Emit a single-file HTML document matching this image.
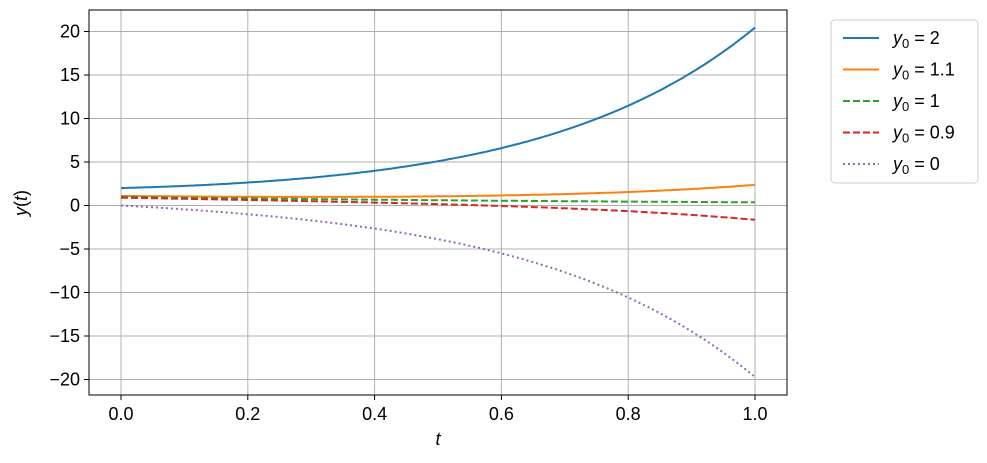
<!DOCTYPE html>
<html><head><meta charset="utf-8"><style>
body{margin:0;background:#fff}
text{font-family:"Liberation Sans","DejaVu Sans",sans-serif;font-size:18px;fill:#000}
</style></head><body>
<svg id="s" width="987" height="458" xmlns="http://www.w3.org/2000/svg">
<g id="grid" stroke="#b0b0b0" stroke-width="1"></g>
<g id="curves" fill="none" stroke-width="2"></g>
<rect x="89" y="10" width="698" height="385" fill="none" stroke="#000" stroke-width="1"/>
<g id="ticks"></g>
<text x="438" y="445" text-anchor="middle" font-style="italic">t</text>
<text transform="translate(27,203) rotate(-90)" text-anchor="middle"><tspan font-style="italic">y</tspan>(<tspan font-style="italic">t</tspan>)</text>
<rect x="831" y="20" width="147" height="163" rx="4" fill="#fff" stroke="#ccc"/>
<g id="leg"></g>
</svg>
<script>
const X=t=>121+634*t, Y=v=>205.5-8.7*v;
const ns="http://www.w3.org/2000/svg";
function el(p,n,a,txt){const e=document.createElementNS(ns,n);for(const k in a)e.setAttribute(k,a[k]);if(txt!==undefined)e.innerHTML=txt;document.getElementById(p).appendChild(e);return e;}
for(let i=0;i<=5;i++){const x=X(i*0.2);el('grid','line',{x1:x,x2:x,y1:10,y2:395});el('ticks','line',{x1:x,x2:x,y1:395,y2:400,stroke:'#000'});el('ticks','text',{x:x,y:420,'text-anchor':'middle'},(i*0.2).toFixed(1));}
for(let v=-20;v<=20;v+=5){const y=Y(v);el('grid','line',{x1:89,x2:787,y1:y,y2:y});el('ticks','line',{x1:84,x2:89,y1:y,y2:y,stroke:'#000'});el('ticks','text',{x:80,y:y+6,'text-anchor':'end'},v<0?'\u2212'+(-v):v);}
const S=[[2,'#1f77b4',''],[1.1,'#ff7f0e',''],[1,'#2ca02c','7,3'],[0.9,'#d62728','7,3'],[0,'#9467bd','2,3']];
S.forEach((s,i)=>{let d='';for(let k=0;k<=200;k++){const t=k/200;const v=Math.exp(-t)+(s[0]-1)*Math.exp(3*t);d+=(k?'L':'M')+X(t).toFixed(1)+','+Y(v).toFixed(1);}
const a={d:d,stroke:s[1]};if(s[2])a['stroke-dasharray']=s[2];el('curves','path',a);
const y=38+i*31.5;const b={x1:843,x2:879,y1:y,y2:y,stroke:s[1],'stroke-width':2};if(s[2])b['stroke-dasharray']=s[2];el('leg','line',b);
el('leg','text',{x:893,y:y+6},'<tspan font-style="italic">y</tspan><tspan font-size="13" dy="4">0</tspan><tspan dy="-4"> = '+s[0]+'</tspan>');});
</script>
</body></html>
